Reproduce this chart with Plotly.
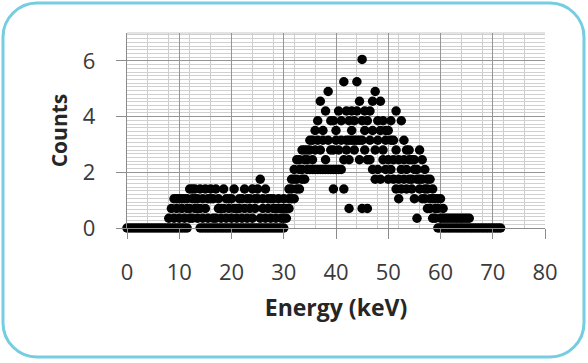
import plotly.graph_objects as go

# ---------------- data ----------------
energies = [
    0.0, 0.5, 1.0, 1.5, 2.0, 2.5, 3.0, 3.5, 4.0, 4.5, 5.0, 5.5, 6.0, 6.5, 7.0, 7.5,
    8.0, 8.5, 9.0, 9.5, 10.0, 10.5, 11.0, 11.5, 12.0, 12.5, 13.0, 13.5, 14.0, 14.5,
    15.0, 15.5, 16.0, 16.5, 17.0, 17.5, 18.0, 18.5, 19.0, 19.5, 20.0, 20.5, 21.0, 21.5,
    22.0, 22.5, 23.0, 23.5, 24.0, 24.5, 25.0, 25.5, 26.0, 26.5, 27.0, 27.5, 28.0, 28.5,
    29.0, 29.5, 30.0, 30.5, 31.0, 31.5, 32.0, 32.5, 33.0, 33.5, 34.0, 34.5, 35.0, 35.5,
    36.0, 36.5, 37.0, 37.5, 38.0, 38.5, 39.0, 39.5, 40.0, 40.5, 41.0, 41.5, 42.0, 42.5,
    43.0, 43.5, 44.0, 44.5, 45.0, 45.5, 46.0, 46.5, 47.0, 47.5, 48.0, 48.5, 49.0, 49.5,
    50.0, 50.5, 51.0, 51.5, 52.0, 52.5, 53.0, 53.5, 54.0, 54.5, 55.0, 55.5, 56.0, 56.5,
    57.0, 57.5, 58.0, 58.5, 59.0, 59.5, 60.0, 60.5, 61.0, 61.5, 62.0, 62.5, 63.0, 63.5,
    64.0, 64.5, 65.0, 65.5, 66.0, 66.5, 67.0, 67.5, 68.0, 68.5, 69.0, 69.5, 70.0, 70.5,
    71.0, 71.5,
]

counts_by_energy = [
    [0], [0], [0], [0], [0], [0], [0], [0], [0], [0], [0], [0], [0], [0], [0], [0],
    [0, 0.35], [0, 0.7], [0, 0.35, 1.05], [0, 0.7, 1.05], [0, 0.35, 1.05],
    [0, 0.7, 1.05], [0, 0.35, 1.05], [0, 0.7, 1.05], [0.35, 0.7, 1.4],
    [0.35, 1.05, 1.4], [0.7, 1.05, 1.4], [0.35, 0.7, 1.05], [0, 0.7, 1.4],
    [0, 0.35, 1.05],
    [0, 0.7, 1.4], [0, 0.35, 1.05], [0, 1.05, 1.4], [0, 0.35, 1.05],
    [0, 0.35, 1.4], [0, 0.7, 1.05], [0, 0.35, 0.7], [0, 0.7, 1.4],
    [0, 0.35, 1.05], [0, 0.7, 1.05], [0, 0.35, 1.05], [0, 0.7, 1.4],
    [0, 0.35, 0.7], [0, 0.7, 1.05],
    [0, 0.35, 1.05], [0, 0.7, 1.4], [0, 0.35, 1.05], [0, 0.7, 1.05],
    [0, 0.35, 1.4], [0, 0.7, 1.05], [0, 1.05, 1.4], [0, 0.35, 1.75],
    [0, 0.7, 1.05], [0, 0.35, 1.4], [0, 0.7, 1.05], [0, 0.35, 1.05],
    [0, 0.7, 1.05], [0, 0.35, 0.7],
    [0, 0.7, 1.05], [0, 0.35, 0.7], [0, 0.35, 0.7, 1.05], [0.35, 0.7],
    [0.7, 1.05, 1.4], [1.05, 1.4, 1.75], [1.05, 1.75, 2.1], [1.4, 1.75, 2.45],
    [1.4, 2.1, 2.45], [1.75, 2.1, 2.8], [1.75, 2.45, 2.8], [2.1, 2.45, 2.8],
    [2.1, 2.8, 3.15], [2.1, 2.45, 3.15],
    [2.1, 2.8, 3.5], [2.1, 3.15, 3.85], [2.1, 2.8, 4.55], [2.1, 3.15, 3.5],
    [2.1, 2.45, 4.2], [2.1, 3.15, 4.9], [2.1, 2.8, 3.85], [1.4, 2.1, 2.8, 3.85],
    [2.1, 3.15, 3.5], [2.1, 2.8, 4.2], [2.1, 3.15, 3.85], [1.4, 2.45, 5.25],
    [2.8, 3.15, 4.2], [0.7, 2.45, 3.15, 3.85],
    [3.15, 3.5, 4.2], [2.8, 3.15, 3.85], [3.15, 4.2, 5.25], [2.45, 3.15, 4.55],
    [0.7, 3.15, 3.85, 6.05], [2.8, 3.5, 4.2], [0.7, 2.45, 3.85], [2.45, 3.15, 4.2],
    [2.1, 3.5, 4.55], [1.75, 2.8, 4.9], [2.1, 3.15, 3.85], [1.75, 3.5, 4.55],
    [2.45, 2.8, 3.85], [2.1, 3.15, 3.5],
    [1.75, 2.45, 3.5], [2.1, 3.15, 3.85], [1.75, 2.45, 3.15], [1.4, 2.8, 4.2],
    [1.05, 1.75, 2.45], [1.4, 2.1, 3.85], [1.75, 2.45, 3.15], [1.4, 2.1, 2.8],
    [1.75, 2.45, 2.8], [1.4, 1.75, 2.45], [1.05, 2.1, 2.45], [0.35, 1.75, 2.1],
    [1.4, 1.75, 2.8], [1.05, 1.75, 2.45],
    [1.05, 1.4, 2.1], [0.7, 1.4, 1.75], [0.7, 1.05, 1.75], [0.35, 1.05, 1.4],
    [0.35, 0.7, 1.05], [0, 0.7, 1.05], [0, 0.35, 1.05], [0, 0.35, 0.7],
    [0, 0.35], [0, 0.35], [0, 0.35], [0, 0.35], [0, 0.35], [0, 0.35],
    [0, 0.35], [0, 0.35], [0, 0.35], [0, 0.35], [0], [0], [0], [0], [0], [0],
    [0], [0], [0], [0],
    [0], [0],
]

x_ticks = [0, 10, 20, 30, 40, 50, 60, 70, 80]
y_ticks = [0, 2, 4, 6]
x_title = "Energy (keV)"
y_title = "Counts"

# flatten for plotting
xs, ys = [], []
for e, cs in zip(energies, counts_by_energy):
    for c in cs:
        xs.append(e)
        ys.append(c)

# ---------------- layout geometry ----------------
W, H = 588, 363
ML, MR, MT, MB = 127, 43, 33, 135
PW, PH = W - ML - MR, H - MT - MB


def px(x):
    return (x - ML) / PW


def py(y):
    return (H - MB - y) / PH


def rounded_rect(x0, y0, x1, y1, r):
    k = 0.45
    pts = [
        ("M", [(x0 + r, y0)]),
        ("L", [(x1 - r, y0)]),
        ("C", [(x1 - r * k, y0), (x1, y0 + r * k), (x1, y0 + r)]),
        ("L", [(x1, y1 - r)]),
        ("C", [(x1, y1 - r * k), (x1 - r * k, y1), (x1 - r, y1)]),
        ("L", [(x0 + r, y1)]),
        ("C", [(x0 + r * k, y1), (x0, y1 - r * k), (x0, y1 - r)]),
        ("L", [(x0, y0 + r)]),
        ("C", [(x0, y0 + r * k), (x0 + r * k, y0), (x0 + r, y0)]),
    ]
    s = ""
    for cmd, ps in pts:
        s += cmd + " " + " ".join(f"{px(a):.5f},{py(b):.5f}" for a, b in ps) + " "
    return s + "Z"


fig = go.Figure()
fig.add_trace(go.Scatter(
    x=xs, y=ys, mode="markers",
    marker=dict(color="black", size=9.5, line=dict(width=0)),
    cliponaxis=False, showlegend=False, hoverinfo="skip",
))

font_family = "Open Sans, Liberation Sans, sans-serif"

fig.update_layout(
    width=W, height=H,
    margin=dict(l=ML, r=MR, t=MT, b=MB, pad=0),
    paper_bgcolor="white", plot_bgcolor="white",
    font=dict(family=font_family, color="#3a3a3a", size=22),
    xaxis=dict(
        range=[0, 80], tickvals=x_ticks, ticktext=[str(v) for v in x_ticks],
        showgrid=True, gridcolor="#959595", gridwidth=1.3,
        minor=dict(dtick=4, tick0=0, showgrid=True, gridcolor="#cccccc", gridwidth=1, ticks=""),
        showline=True, linecolor="#8c8c8c", linewidth=1.3,
        ticks="outside", ticklen=10, tickcolor="#8c8c8c", tickwidth=1.3,
        ticklabelstandoff=14,
        tickfont=dict(size=22, color="#3a3a3a", family=font_family),
        title=dict(text=x_title, standoff=15,
                   font=dict(size=23, color="#262626", family=font_family, weight="bold")),
        zeroline=False, fixedrange=True, automargin=False,
    ),
    yaxis=dict(
        range=[0, 7], tickvals=y_ticks, ticktext=[str(v) for v in y_ticks],
        showgrid=True, gridcolor="#959595", gridwidth=1.3,
        minor=dict(dtick=2 / 15, tick0=0, showgrid=True, gridcolor="#d0d0d0", gridwidth=1, ticks=""),
        showline=True, linecolor="#8c8c8c", linewidth=1.3,
        ticks="outside", ticklen=10, tickcolor="#8c8c8c", tickwidth=1.3,
        ticklabelstandoff=16,
        tickfont=dict(size=22, color="#3a3a3a", family=font_family),
        title=dict(text=y_title, standoff=9,
                   font=dict(size=21, color="#262626", family=font_family, weight="bold")),
        zeroline=False, fixedrange=True, automargin=False,
    ),
    shapes=[
        dict(type="line", xref="paper", yref="paper", x0=0, x1=1, y0=1, y1=1,
             line=dict(color="#c8c8c8", width=1), layer="below"),
        dict(type="path", xref="paper", yref="paper",
             path=rounded_rect(3, 3, 584, 357, 34),
             line=dict(color="#74cde0", width=3), fillcolor="rgba(0,0,0,0)", layer="above"),
    ],
)

fig.write_html(
    "out.html",
    config={"displayModeBar": False},
    post_script="document.body.style.margin='0';document.body.style.overflow='hidden';",
)
